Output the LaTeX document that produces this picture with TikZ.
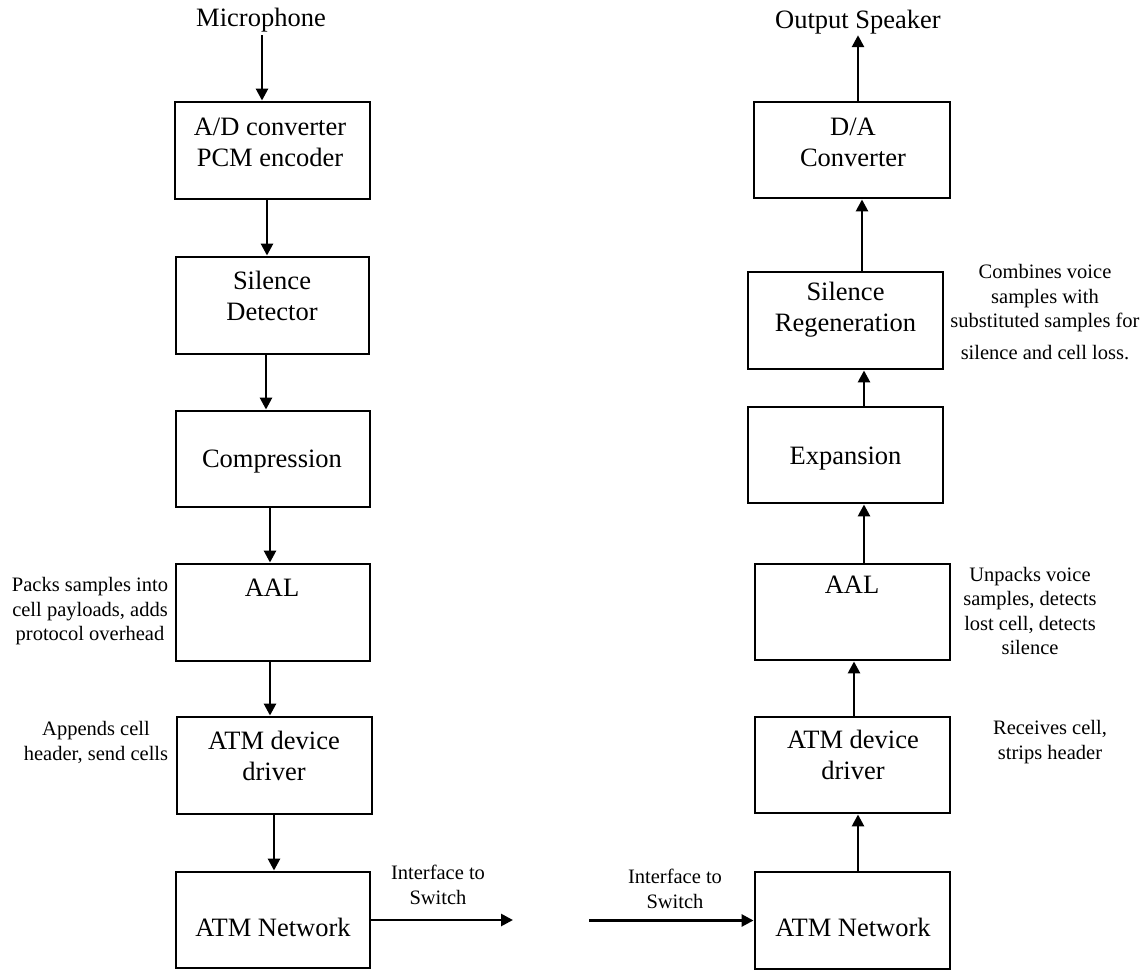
\documentclass[tikz,border=0pt]{standalone}
\usepackage{fontspec}
\setmainfont{Liberation Serif}
\usetikzlibrary{arrows.meta}
\begin{document}
\begin{tikzpicture}[x=1pt,y=-1pt,
  box/.style={draw,line width=2.9pt,inner sep=0pt},
  btxt/.style={font=\fontsize{26.5}{31}\selectfont,align=center,inner sep=0pt},
  note/.style={font=\fontsize{20.5}{24.5}\selectfont,align=center,inner sep=0pt},
  arr/.style={line width=2.7pt,-{Triangle[length=12pt,width=12pt]}}]
\useasboundingbox[fill=white] (0,0) rectangle (1146,971);

% ---- left column boxes
\node[box,minimum width=195pt,minimum height=97pt] (ad) at (272.5,150.5) {};
\node[box,minimum width=193pt,minimum height=97pt] (sd) at (272.5,305.5) {};
\node[box,minimum width=194pt,minimum height=96pt] (comp) at (273,459) {};
\node[box,minimum width=194pt,minimum height=97pt] (laal) at (273,612.5) {};
\node[box,minimum width=195pt,minimum height=97pt] (ldd) at (274.5,765.5) {};
\node[box,minimum width=194pt,minimum height=96pt] (lnet) at (273,920) {};

\node[btxt] (adT) at (270,142) {A/D converter\\PCM encoder};
\node[btxt] (sdT) at (272,296) {Silence\\Detector};
\node[btxt] (compT) at (272,462) {Compression};
\node[btxt] (laalT) at (272,588) {AAL};
\node[btxt] (lddT) at (274,756) {ATM device\\driver};
\node[btxt] (lnetT) at (273,927) {ATM Network};

% ---- right column boxes
\node[box,minimum width=196pt,minimum height=96pt] (da) at (852,150) {};
\node[box,minimum width=195pt,minimum height=97pt] (sr) at (845.5,320.5) {};
\node[box,minimum width=195pt,minimum height=96pt] (exp) at (845.5,455) {};
\node[box,minimum width=195pt,minimum height=96pt] (raal) at (852.5,612) {};
\node[box,minimum width=195pt,minimum height=96pt] (rdd) at (852.5,765) {};
\node[box,minimum width=195pt,minimum height=97pt] (rnet) at (852.5,920.5) {};

\node[btxt] (daT) at (853,142) {D/A\\Converter};
\node[btxt] (srT) at (845.5,310) {Silence\\Regeneration};
\node[btxt] (expT) at (845.5,459) {Expansion};
\node[btxt] (raalT) at (852,585) {AAL};
\node[btxt] (rddT) at (853,755) {ATM device\\driver};
\node[btxt] (rnetT) at (853,927) {ATM Network};

% ---- end labels
\node[btxt,inner sep=3pt] (mic) at (261,20) {Microphone};
\node[btxt,inner sep=1pt] (spk) at (858,22) {Output Speaker};

% ---- notes
\node[note] (n1) at (90,611.5) {Packs samples into\\cell payloads, adds\\protocol overhead};
\node[note] (n2) at (96,742.5) {Appends cell\\header, send cells};
\node[note] (n3) at (438,885) {Interface to\\Switch};
\node[note] (n4) at (675,889) {Interface to\\Switch};
\node[note] (n5) at (1030,611) {Unpacks voice\\samples, detects\\lost cell, detects\\silence};
\node[note] (n6) at (1050,742) {Receives cell,\\strips header};
\node[note] (n7) at (1045,312) {Combines voice\\samples with\\substituted samples for\\[7pt]silence and cell loss.};

% ---- coordinates for free ends
\coordinate (lout) at (513,920);
\coordinate (rin) at (589,920.5);

% ---- left connectors
\draw[arr] ([xshift=1pt]mic.south) -- ([xshift=-10.5pt]ad.north);
\draw[arr] ([xshift=-5.5pt]ad.south) -- ([xshift=-5.5pt]sd.north);
\draw[arr] ([xshift=-6.5pt]sd.south) -- ([xshift=-7pt]comp.north);
\draw[arr] ([xshift=-3pt]comp.south) -- ([xshift=-3pt]laal.north);
\draw[arr] ([xshift=-3pt]laal.south) -- ([xshift=-4.5pt]ldd.north);
\draw[arr] ([xshift=-0.5pt]ldd.south) -- ([xshift=1pt]lnet.north);
\draw[arr] (lnet.east) -- (lout);

% ---- right connectors
\draw[arr] (rin) -- (rnet.west);
\draw[arr] ([xshift=5.5pt]rnet.north) -- ([xshift=5.5pt]rdd.south);
\draw[arr] ([xshift=1.5pt]rdd.north) -- ([xshift=1.5pt]raal.south);
\draw[arr] ([xshift=11.5pt]raal.north) -- ([xshift=18.5pt]exp.south);
\draw[arr] ([xshift=18.5pt]exp.north) -- ([xshift=18.5pt]sr.south);
\draw[arr] ([xshift=16.5pt]sr.north) -- ([xshift=10pt]da.south);
\draw[arr] ([xshift=6pt]da.north) -- ([xshift=0pt]spk.south);
\end{tikzpicture}
\end{document}
